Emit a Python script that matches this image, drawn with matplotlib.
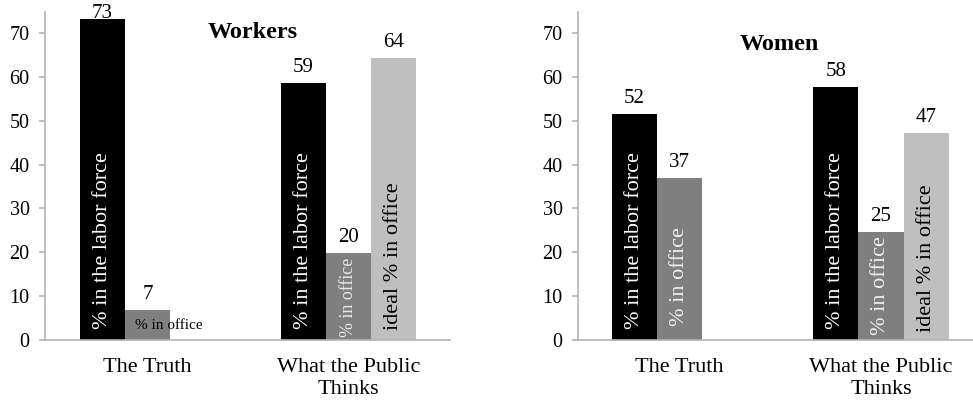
import matplotlib
matplotlib.use("Agg")
import matplotlib.pyplot as plt
import numpy as np

plt.rcParams['font.family'] = ['Liberation Serif', 'DejaVu Serif']

categories = ["The Truth", "What the Public\nThinks"]

workers_labor = [73.2, 58.6]
workers_office = [6.8, 19.8]
workers_ideal = [np.nan, 64.3]

women_labor = [51.5, 57.6]
women_office = [36.9, 24.6]
women_ideal = [np.nan, 47.2]

yticks = [0, 10, 20, 30, 40, 50, 60, 70]

C_BLACK = "#000000"
C_DARK = "#7f7f7f"
C_LIGHT = "#bfbfbf"
C_AXIS = "#b3b3b3"

W = 0.224
X = np.arange(len(categories)) + 0.5
YMAX = 74.8

fig = plt.figure(figsize=(9.73, 4.08), dpi=100)

def px(x0, y0, x1, y1):
    return [x0 / 973, 1 - y1 / 408, (x1 - x0) / 973, (y1 - y0) / 408]

axL = fig.add_axes(px(45, 12, 450, 340))
axR = fig.add_axes(px(578, 12, 973, 340))

def style(ax, xlim):
    ax.set_xlim(*xlim)
    ax.set_ylim(0, YMAX)
    ax.set_yticks(yticks)
    ax.set_xticks(X)
    ax.set_xticklabels(categories, fontsize=16, linespacing=1.2)
    for s in ["top", "right"]:
        ax.spines[s].set_visible(False)
    for s in ["left", "bottom"]:
        ax.spines[s].set_color(C_AXIS)
        ax.spines[s].set_linewidth(1.2)
    ax.tick_params(axis="y", length=4, width=1.2, color=C_AXIS, pad=7, labelsize=14.5)
    ax.tick_params(axis="x", length=0, pad=13)

def draw(ax, labor, office, ideal):
    b1 = ax.bar(X - W, labor, W, color=C_BLACK)
    b2 = ax.bar(X, office, W, color=C_DARK)
    b3 = ax.bar(X + W, ideal, W, color=C_LIGHT)
    for bars in (b1, b2, b3):
        for r in bars:
            h = r.get_height()
            if np.isnan(h):
                continue
            off = 11 if h < YMAX - 7 else 1
            ax.annotate(f"{h:.0f}", (r.get_x() + r.get_width() / 2, h),
                        xytext=(0, off), textcoords="offset pixels",
                        ha="center", va="baseline", fontsize=15,
                        annotation_clip=False)
    return b1, b2, b3

style(axL, (-0.01, 2.005))
style(axR, (-0.004, 1.957))

bL = draw(axL, workers_labor, workers_office, workers_ideal)
bR = draw(axR, women_labor, women_office, women_ideal)

def vlabel(ax, x, y, text, color, size=16):
    ax.text(x, y, text, rotation=90, ha="center", va="bottom",
            color=color, fontsize=size)

# Workers in-bar labels
vlabel(axL, X[0] - W, 2.6, "% in the labor force", "white")
vlabel(axL, X[1] - W, 2.6, "% in the labor force", "white")
vlabel(axL, X[1], 0.7, "% in office", "#e8e8e8", size=13)
vlabel(axL, X[1] + W, 2.2, "ideal % in office", "black")
axL.text(X[0] - W / 2 + 0.05, 3.4, "% in office", ha="left", va="center",
         fontsize=11, color="black")

# Women in-bar labels
vlabel(axR, X[0] - W, 2.6, "% in the labor force", "white")
vlabel(axR, X[0], 3.2, "% in office", "#f0f0f0")
vlabel(axR, X[1] - W, 2.6, "% in the labor force", "white")
vlabel(axR, X[1], 1.1, "% in office", "#f0f0f0")
vlabel(axR, X[1] + W, 1.9, "ideal % in office", "black")

fig.text(253 / 973, 1 - 33 / 408, "Workers", ha="center", va="center",
         fontsize=17.5, fontweight="bold")
fig.text(779 / 973, 1 - 45 / 408, "Women", ha="center", va="center",
         fontsize=17.5, fontweight="bold")

fig.savefig("out.png", dpi=100)
